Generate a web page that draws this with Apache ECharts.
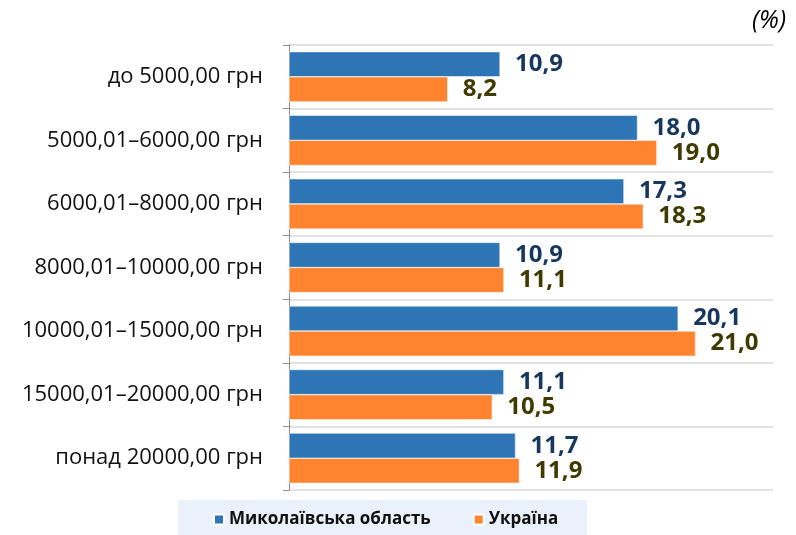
<!DOCTYPE html>
<html>
<head>
<meta charset="utf-8">
<script src="https://cdn.jsdelivr.net/npm/echarts@6/dist/echarts.min.js"></script>
<style>
  html, body { margin: 0; padding: 0; background: #fff; }
  #chart { width: 796px; height: 535px; }
</style>
</head>
<body>
<div id="chart"></div>
<script>
let categories = [
    'до 5000,00 грн',
    '5000,01–6000,00 грн',
    '6000,01–8000,00 грн',
    '8000,01–10000,00 грн',
    '10000,01–15000,00 грн',
    '15000,01–20000,00 грн',
    'понад 20000,00 грн'
];
let regionValues = [10.9, 18.0, 17.3, 10.9, 20.1, 11.1, 11.7];
let ukraineValues = [8.2, 19.0, 18.3, 11.1, 21.0, 10.5, 11.9];
let seriesNames = ['Миколаївська область', 'Україна'];

let fontFamily = '"Open Sans", "Noto Sans", sans-serif';

function fmt(p) {
    return p.value.toFixed(1).replace('.', ',');
}

let chart = echarts.init(document.getElementById('chart'));
let option = {
    animation: false,
    textStyle: { fontFamily: fontFamily },
    grid: { left: 289, right: 23, top: 45, bottom: 45 },
    graphic: [
        {
            type: 'rect',
            shape: { x: 178, y: 500, width: 409, height: 35 },
            style: { fill: '#EAF1FA' },
            z: 0
        },
        {
            type: 'text',
            right: 10,
            top: 8,
            style: {
                text: '(%)',
                font: 'italic 25px ' + fontFamily,
                fill: '#000'
            }
        }
    ],
    legend: {
        bottom: 2,
        left: 208,
        itemWidth: 10,
        itemHeight: 10,
        itemGap: 42,
        icon: 'rect',
        z: 5,
        textStyle: { fontSize: 17, fontWeight: 'bold', color: '#111', fontFamily: fontFamily }
    },
    xAxis: {
        type: 'value',
        min: 0,
        max: 25,
        axisLabel: { show: false },
        axisLine: { show: false },
        axisTick: { show: false },
        splitLine: { show: false }
    },
    yAxis: {
        type: 'category',
        inverse: true,
        data: categories,
        axisLine: { show: true, lineStyle: { color: '#8c8c8c' } },
        axisTick: { show: true, length: 6, lineStyle: { color: '#8c8c8c' } },
        splitLine: { show: true, lineStyle: { color: '#d9d9d9', width: 1.5 } },
        axisLabel: { fontSize: 22, color: '#111', margin: 26, fontFamily: fontFamily }
    },
    series: [
        {
            name: seriesNames[0],
            type: 'bar',
            data: regionValues,
            barGap: '0%',
            barCategoryGap: '21%',
            itemStyle: { color: '#2E75B6', borderColor: '#ffffff', borderWidth: 0.5 },
            label: {
                show: true,
                position: 'right',
                distance: 15,
                formatter: fmt,
                fontSize: 24,
                fontWeight: 'bold',
                color: '#17375E',
                fontFamily: fontFamily
            }
        },
        {
            name: seriesNames[1],
            type: 'bar',
            data: ukraineValues,
            itemStyle: { color: '#FF8430', borderColor: '#ffffff', borderWidth: 0.5 },
            label: {
                show: true,
                position: 'right',
                distance: 15,
                formatter: fmt,
                fontSize: 24,
                fontWeight: 'bold',
                color: '#3F3B00',
                fontFamily: fontFamily
            }
        }
    ]
};
option && chart.setOption(option);
</script>
</body>
</html>
